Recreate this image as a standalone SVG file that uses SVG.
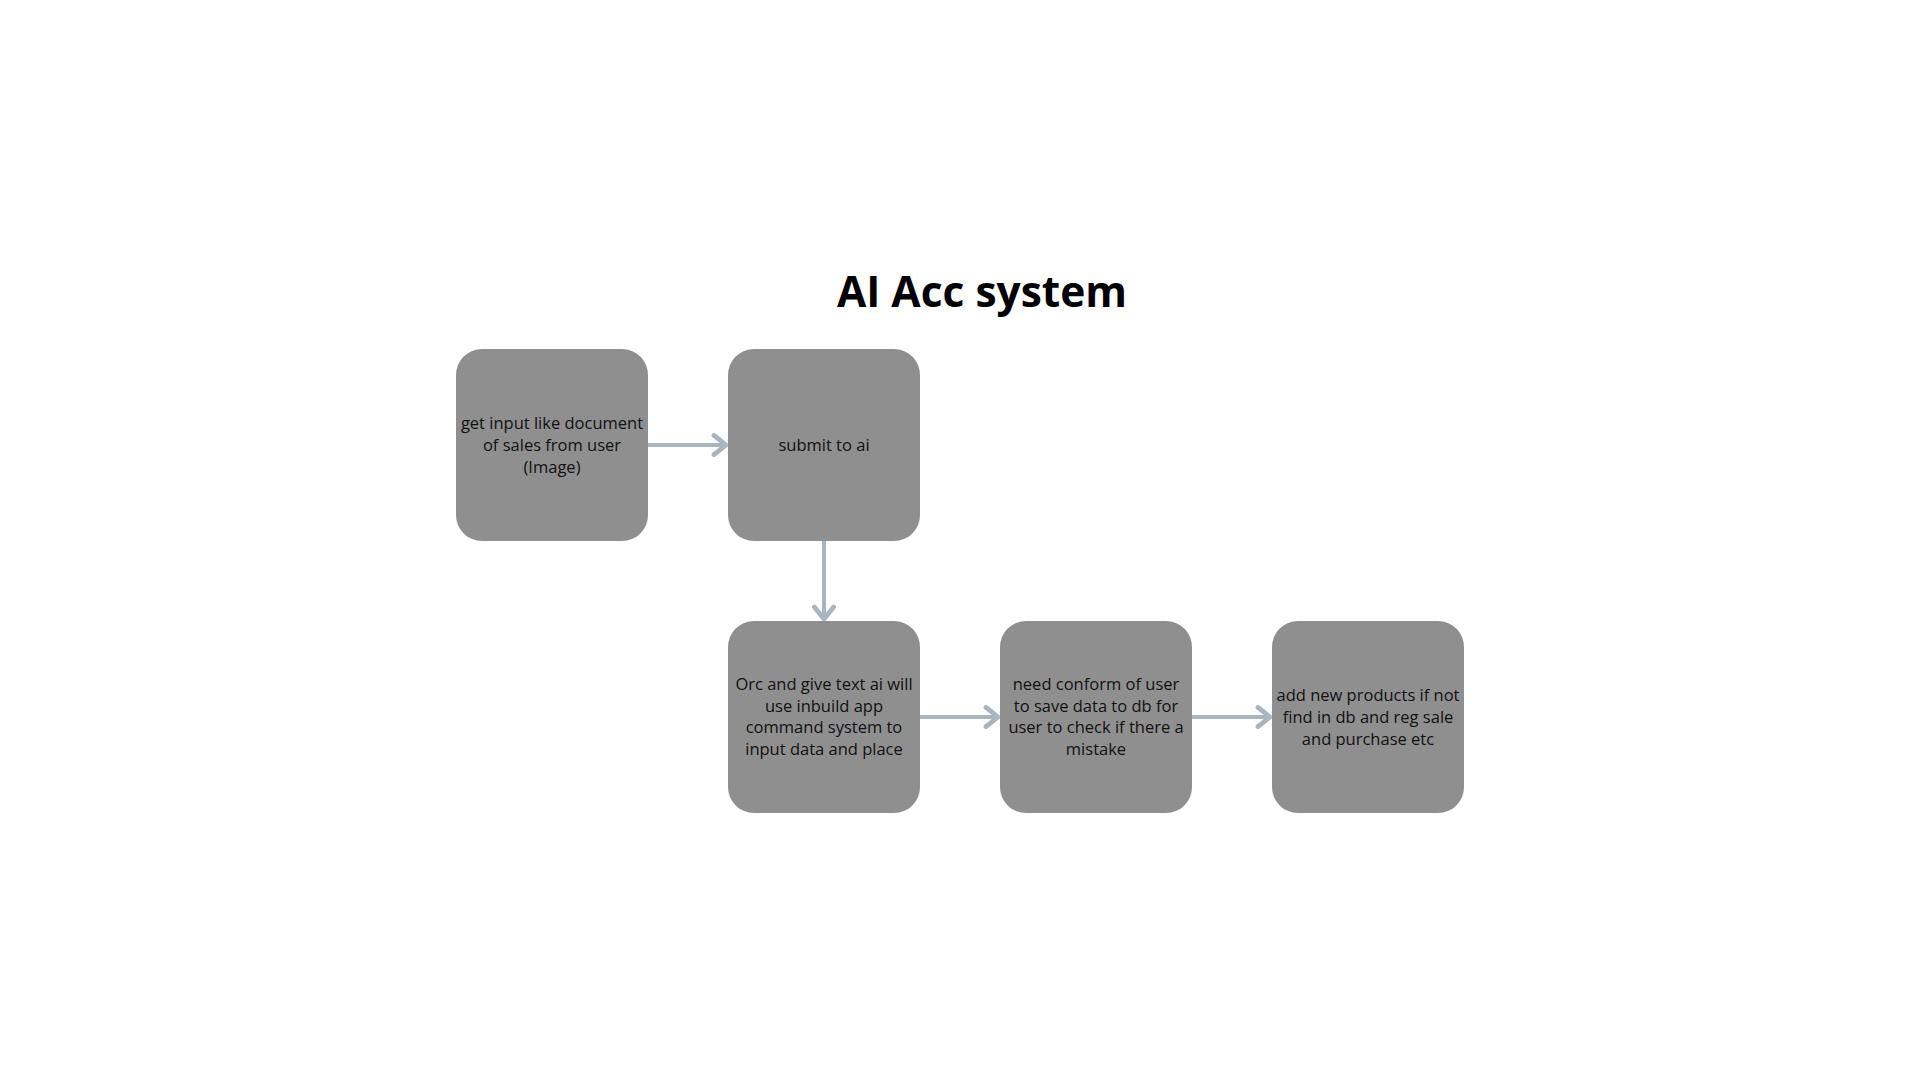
<svg xmlns="http://www.w3.org/2000/svg" width="1920" height="1080" viewBox="0 0 1920 1080">
<defs>
<style>
.node rect{fill:#8f8f8f}
.node text{font-family:"Open Sans","Liberation Sans",sans-serif;font-size:16.5px;fill:#111;text-anchor:middle}
.title{font-family:"Open Sans","Liberation Sans",sans-serif;font-size:42.5px;font-weight:700;fill:#000;text-anchor:middle}
.conn{stroke:#a9b6c0;stroke-width:4;fill:none;marker-end:url(#arr)}
</style>
<marker id="arr" markerUnits="userSpaceOnUse" markerWidth="20" markerHeight="24" viewBox="-12 -10 14 20" refX="0" refY="0" orient="auto">
<path d="M-10,-8 L0,0 L-10,8" fill="none" stroke="#a9b6c0" stroke-width="4" stroke-linecap="round" stroke-linejoin="round"/>
</marker>
</defs>
<rect width="1920" height="1080" fill="#fff"/>
<text class="title" x="982" y="307">AI Acc system</text>
<g id="connectors">
<line class="conn" x1="648" y1="445" x2="726" y2="445"/>
<line class="conn" x1="824" y1="541" x2="824" y2="619"/>
<line class="conn" x1="920" y1="717" x2="998" y2="717"/>
<line class="conn" x1="1192" y1="717" x2="1270" y2="717"/>
</g>
<g id="n1" class="node">
<rect x="456" y="349" width="192" height="192" rx="26"/>
<text><tspan x="552" y="429">get input like document</tspan><tspan x="552" y="451">of sales from user</tspan><tspan x="552" y="473">(Image)</tspan></text>
</g>
<g id="n2" class="node">
<rect x="728" y="349" width="192" height="192" rx="26"/>
<text x="824" y="451">submit to ai</text>
</g>
<g id="n3" class="node">
<rect x="728" y="621" width="192" height="192" rx="26"/>
<text><tspan x="824" y="690">Orc and give text ai will</tspan><tspan x="824" y="712">use inbuild app</tspan><tspan x="824" y="733">command system to</tspan><tspan x="824" y="755">input data and place</tspan></text>
</g>
<g id="n4" class="node">
<rect x="1000" y="621" width="192" height="192" rx="26"/>
<text><tspan x="1096" y="690">need conform of user</tspan><tspan x="1096" y="712">to save data to db for</tspan><tspan x="1096" y="733">user to check if there a</tspan><tspan x="1096" y="755">mistake</tspan></text>
</g>
<g id="n5" class="node">
<rect x="1272" y="621" width="192" height="192" rx="26"/>
<text><tspan x="1368" y="701">add new products if not</tspan><tspan x="1368" y="723">find in db and reg sale</tspan><tspan x="1368" y="745">and purchase etc</tspan></text>
</g>
</svg>
